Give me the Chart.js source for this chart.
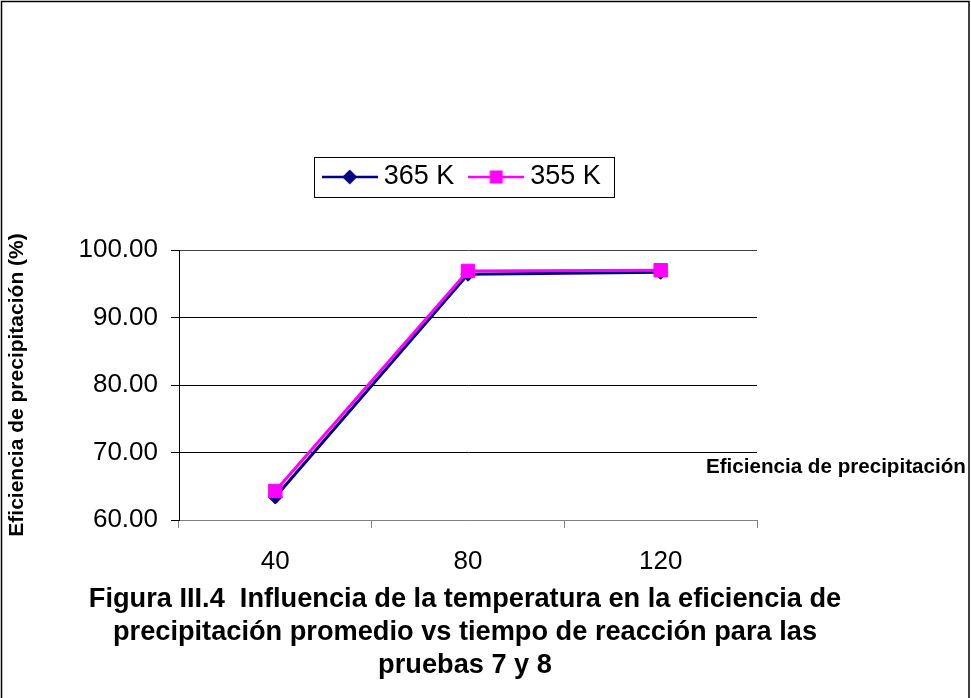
<!DOCTYPE html>
<html>
<head>
<meta charset="utf-8">
<title>Figura III.4</title>
<script src="https://cdn.jsdelivr.net/npm/chart.js@4.4.1/dist/chart.umd.min.js"></script>
<style>
  html, body { margin: 0; padding: 0; background: #ffffff; }
  #wrap { width: 971px; height: 698px; position: relative; }
  canvas { display: block; }
</style>
</head>
<body>
<div id="wrap"><canvas id="chart" width="971" height="698"></canvas></div>
<script>
// Reaction time categories (x axis) and average precipitation efficiency (%)
const categories = ['40', '80', '120'];
const series365K = [63.4, 96.4, 96.7];
const series355K = [64.3, 96.9, 97.0];
const seriesNames = ['365 K', '355 K'];
const yTicks = [60, 70, 80, 90, 100];
const titleLines = [
  'Figura III.4  Influencia de la temperatura en la eficiencia de',
  'precipitación promedio vs tiempo de reacción para las',
  'pruebas 7 y 8'
];
const yAxisTitle = 'Eficiencia de precipitación (%)';
const xAxisTitle = 'Eficiencia de precipitación';

const FONT = "'Liberation Sans', Arial, Helvetica, sans-serif";
const NAVY = '#000080';
const MAGENTA = '#FF00FF';

// Legend symbols: a short line with the series marker on it
function legendIcon(color, marker) {
  const c = document.createElement('canvas');
  c.width = 56; c.height = 20;
  const g = c.getContext('2d');
  g.strokeStyle = color;
  g.lineWidth = 2.5;
  g.beginPath(); g.moveTo(0, 10); g.lineTo(56, 10); g.stroke();
  g.fillStyle = color;
  if (marker === 'diamond') {
    g.beginPath();
    g.moveTo(28, 2.5); g.lineTo(35.5, 10); g.lineTo(28, 17.5); g.lineTo(20.5, 10);
    g.closePath(); g.fill();
  } else {
    g.fillRect(21.5, 3.5, 13, 13);
  }
  return c;
}
const legendIcons = [legendIcon(NAVY, 'diamond'), legendIcon(MAGENTA, 'square')];

// White page with a thin frame around the whole figure
const framePlugin = {
  id: 'frame',
  beforeDraw(chart) {
    const ctx = chart.ctx;
    ctx.save();
    ctx.fillStyle = '#ffffff';
    ctx.fillRect(0, 0, chart.width, chart.height);
    ctx.strokeStyle = '#000000';
    ctx.lineWidth = 1.5;
    ctx.strokeRect(1.5, 1.5, chart.width - 3.5, chart.height + 20);
    ctx.restore();
  }
};

// Leave a gap between the legend row and the plot area
const legendGapPlugin = {
  id: 'legendGap',
  beforeLayout(chart) {
    const lg = chart.legend;
    if (lg && !lg._gapAdded) {
      const fit = lg.fit;
      lg.fit = function () { fit.call(this); this.height += 49.5; };
      lg._gapAdded = true;
    }
  }
};

// Box around the legend items and the category-axis caption beside the plot
const decorPlugin = {
  id: 'decor',
  afterDraw(chart) {
    const ctx = chart.ctx;
    const hb = chart.legend.legendHitBoxes;
    ctx.save();
    if (hb && hb.length) {
      const first = hb[0], last = hb[hb.length - 1];
      const cy = first.top + first.height / 2;
      const x0 = Math.round(first.left - 15) + 0.5;
      const x1 = Math.round(last.left + last.width + 13) + 0.5;
      const y0 = Math.round(cy - 20) + 0.5;
      ctx.strokeStyle = '#000000';
      ctx.lineWidth = 1;
      ctx.strokeRect(x0, y0, x1 - x0, 40);
    }
    const area = chart.chartArea;
    ctx.fillStyle = '#000000';
    ctx.font = 'bold 20.6px ' + FONT;
    ctx.textAlign = 'left';
    ctx.textBaseline = 'middle';
    ctx.fillText(xAxisTitle, area.right - 51, area.bottom - 53);
    ctx.restore();
  }
};

new Chart(document.getElementById('chart'), {
  type: 'line',
  data: {
    labels: categories,
    datasets: [
      {
        label: seriesNames[0],
        data: series365K,
        borderColor: NAVY,
        backgroundColor: NAVY,
        borderWidth: 3,
        pointStyle: 'rectRot',
        pointRadius: 7,
        pointHoverRadius: 7,
        pointBorderWidth: 1,
        pointBorderColor: NAVY,
        pointBackgroundColor: NAVY,
        tension: 0,
        order: 2
      },
      {
        label: seriesNames[1],
        data: series355K,
        borderColor: MAGENTA,
        backgroundColor: MAGENTA,
        borderWidth: 3,
        pointStyle: 'rect',
        pointRadius: 9.5,
        pointHoverRadius: 9.5,
        pointBorderWidth: 1,
        pointBorderColor: MAGENTA,
        pointBackgroundColor: MAGENTA,
        tension: 0,
        order: 1
      }
    ]
  },
  options: {
    responsive: false,
    animation: false,
    devicePixelRatio: 1,
    layout: { padding: { top: 142, right: 41, bottom: 15.5, left: 0 } },
    scales: {
      x: {
        type: 'category',
        offset: true,
        grid: {
          offset: true,
          drawOnChartArea: false,
          drawTicks: true,
          tickLength: 8,
          tickColor: '#808080',
          tickWidth: 1
        },
        border: { display: true, color: '#808080', width: 1 },
        ticks: { color: '#000000', font: { family: FONT, size: 26 }, padding: 18, maxRotation: 0, autoSkip: false },
        afterFit(scale) { scale.height = 63.5; }
      },
      y: {
        position: 'left',
        min: 60,
        max: 100,
        afterBuildTicks(scale) { scale.ticks = yTicks.map(v => ({ value: v })); },
        ticks: {
          color: '#000000',
          font: { family: FONT, size: 26 },
          padding: 13,
          callback: v => Number(v).toFixed(2)
        },
        grid: {
          color: ctx => ctx.tick && ctx.tick.value === 60 ? '#808080' : (ctx.tick && ctx.tick.value === 100 ? '#404040' : '#000000'),
          lineWidth: 1,
          drawTicks: true,
          tickLength: 8,
          tickColor: '#000000'
        },
        border: { display: true, color: '#000000', width: 1 },
        title: {
          display: true,
          text: yAxisTitle,
          color: '#000000',
          font: { family: FONT, size: 21, weight: 'bold' },
          padding: { top: 5, bottom: 0 }
        },
        afterFit(scale) { scale.width = 179; }
      },
      // Empty spacer on the right that leaves room for the axis caption
      spacer: {
        type: 'linear',
        position: 'right',
        display: true,
        grid: { display: false, drawTicks: false },
        border: { display: false },
        ticks: { display: false },
        afterFit(scale) { scale.width = 173; }
      }
    },
    plugins: {
      legend: {
        display: true,
        position: 'top',
        fullSize: true,
        align: 'center',
        labels: {
          usePointStyle: true,
          pointStyleWidth: 41,
          padding: 21.5,
          color: '#000000',
          font: { family: FONT, size: 27 },
          sort: (a, b) => a.datasetIndex - b.datasetIndex,
          generateLabels(chart) {
            const items = Chart.defaults.plugins.legend.labels.generateLabels(chart);
            items.forEach(it => { it.pointStyle = legendIcons[it.datasetIndex]; });
            return items;
          }
        }
      },
      title: {
        display: true,
        position: 'bottom',
        fullSize: true,
        text: titleLines,
        color: '#000000',
        font: { family: FONT, size: 27.2, weight: 'bold', lineHeight: '33px' },
        padding: { top: 0, bottom: 0 }
      },
      tooltip: { enabled: false }
    }
  },
  plugins: [framePlugin, legendGapPlugin, decorPlugin]
});
</script>
</body>
</html>
